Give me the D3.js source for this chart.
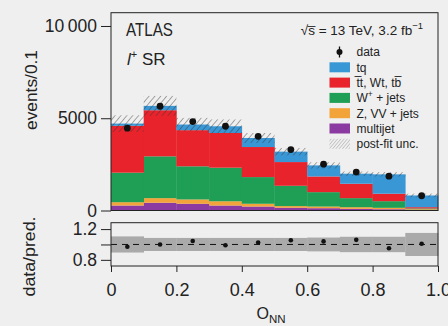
<!DOCTYPE html>
<html><head><meta charset="utf-8">
<script src="https://cdn.jsdelivr.net/npm/d3@7"></script>
<style>
html,body{margin:0;padding:0;background:#efefef;}
svg{display:block;font-family:"Liberation Sans",Arial,sans-serif;}
</style></head><body><svg id="c" width="448" height="326"></svg>
<script>
// ---- data ----
const binLow   = [0.0, 0.1, 0.2, 0.3, 0.4, 0.5, 0.6, 0.7, 0.8, 0.9];
const binWidth = 0.1;
const multijet = [270, 420, 365, 270, 215, 150, 125, 90, 70, 30];
const zvv      = [180, 250, 235, 230, 150, 90, 90, 90, 75, 40];
const wjets    = [1600, 2265, 1795, 1820, 1445, 1100, 780, 490, 360, 40];
const ttbar    = [2540, 2500, 1960, 1880, 1630, 1285, 850, 780, 405, 70];
const tq       = [120, 235, 305, 365, 490, 565, 600, 545, 1050, 635];
const postFitUnc = [450, 540, 360, 370, 270, 200, 170, 120, 120, 100];
const dataVals = [4460, 5650, 4820, 4565, 4020, 3300, 2510, 2080, 1860, 800];
const ratioVals = [0.97, 1.0, 1.045, 0.99, 1.025, 1.055, 1.04, 1.06, 0.95, 1.01];
const ratioUnc  = [0.105, 0.085, 0.085, 0.085, 0.085, 0.085, 0.09, 0.1, 0.1, 0.15];
const yTicks = [0, 5000, 10000];
const yTickLabels = ["0", "5000", "10\u2009000"];
const rTicks = [0.8, 1.0, 1.2];
const rTickLabels = ["0.8", "", "1.2"];
const xTicks = [0, 0.2, 0.4, 0.6, 0.8, 1.0];
const xTickLabels = ["0", "0.2", "0.4", "0.6", "0.8", "1.0"];
const keys = ["multijet", "zvv", "wjets", "ttbar", "tq"];
const colors = {tq:"#3a97d6", ttbar:"#e8232c", wjets:"#1f9e55", zvv:"#f2a33a", multijet:"#8a3aa0"};
const legendItems = [
  {key:"data", label:"data"},
  {key:"tq", label:"tq"},
  {key:"ttbar", label:"t\u0305t, Wt, tb\u0305"},
  {key:"wjets", label:"W", sup:"+", rest:" + jets"},
  {key:"zvv", label:"Z, VV + jets"},
  {key:"multijet", label:"multijet"},
  {key:"unc", label:"post-fit unc."}
];

const table = binLow.map((x, i) => ({x, multijet: multijet[i], zvv: zvv[i], wjets: wjets[i], ttbar: ttbar[i], tq: tq[i]}));
const totals = table.map(d => keys.reduce((s, k) => s + d[k], 0));

const svg = d3.select("#c");
const x = d3.scaleLinear([0, 1], [111, 438]);
const y = d3.scaleLinear([0, 10720], [210.5, 12.7]);
const yr = d3.scaleLinear([0.72, 1.283], [266, 222.7]);
const ink = "#222";

svg.append("rect").attr("width", 448).attr("height", 326).attr("fill", "#efefef");

const defs = svg.append("defs");
const pat = defs.append("pattern").attr("id", "hatch").attr("patternUnits", "userSpaceOnUse")
  .attr("width", 4.5).attr("height", 4.5).attr("patternTransform", "rotate(40)");
pat.append("line").attr("x1", 0).attr("y1", 0).attr("x2", 0).attr("y2", 4.5)
  .attr("stroke", "#333").attr("stroke-width", 1.1).attr("stroke-opacity", 0.75);
const pat2 = defs.append("pattern").attr("id", "hatch2").attr("patternUnits", "userSpaceOnUse")
  .attr("width", 2.5).attr("height", 2.5).attr("patternTransform", "rotate(40)");
pat2.append("line").attr("x1", 0).attr("y1", 0).attr("x2", 0).attr("y2", 2.5)
  .attr("stroke", "#999").attr("stroke-width", 0.9);

// ---- stacked bars ----
const series = d3.stack().keys(keys)(table);
svg.append("g").selectAll("g").data(series).join("g")
  .attr("fill", s => colors[s.key])
  .selectAll("rect").data(s => s).join("rect")
  .attr("x", d => x(d.data.x))
  .attr("width", d => x(d.data.x + binWidth) - x(d.data.x) + 0.3)
  .attr("y", d => y(d[1]))
  .attr("height", d => y(d[0]) - y(d[1]));

// ---- post-fit uncertainty hatch ----
svg.append("g").selectAll("rect").data(binLow).join("rect")
  .attr("x", (d) => x(d))
  .attr("width", d => x(d + binWidth) - x(d))
  .attr("y", (d, i) => y(totals[i] + postFitUnc[i]))
  .attr("height", (d, i) => y(totals[i] - postFitUnc[i]) - y(totals[i] + postFitUnc[i]))
  .attr("fill", "url(#hatch)");

// ---- data points ----
svg.append("g").selectAll("circle").data(binLow).join("circle")
  .attr("cx", d => x(d + binWidth / 2))
  .attr("cy", (d, i) => y(dataVals[i]))
  .attr("r", 3.4).attr("fill", "#111");

// ---- main frame ----
svg.append("rect").attr("x", x(0)).attr("y", y(10720)).attr("width", x(1) - x(0)).attr("height", y(0) - y(10720))
  .attr("fill", "none").attr("stroke", ink).attr("stroke-width", 1);

// main y axis
const yAxis = svg.append("g").attr("transform", `translate(${x(0)},0)`)
  .call(d3.axisLeft(y).tickValues(yTicks).tickSize(10).tickPadding(4)
    .tickFormat((d, i) => yTickLabels[i]));
yAxis.select(".domain").remove();
yAxis.selectAll("line").attr("stroke", ink);
yAxis.selectAll("text").attr("font-size", 17.5).attr("fill", ink).attr("font-family", "Liberation Sans, Arial, sans-serif");

// ---- ratio panel ----
const rg = svg.append("g");
rg.selectAll("rect.band").data(binLow).join("rect").attr("class", "band")
  .attr("x", d => x(d))
  .attr("width", d => x(d + binWidth) - x(d) + 0.3)
  .attr("y", (d, i) => yr(1 + ratioUnc[i]))
  .attr("height", (d, i) => yr(1 - ratioUnc[i]) - yr(1 + ratioUnc[i]))
  .attr("fill", "#aaaaaa");
rg.append("line").attr("x1", x(0)).attr("x2", x(1)).attr("y1", yr(1)).attr("y2", yr(1))
  .attr("stroke", "#111").attr("stroke-width", 1).attr("stroke-dasharray", "6,5");
rg.selectAll("circle").data(binLow).join("circle")
  .attr("cx", d => x(d + binWidth / 2))
  .attr("cy", (d, i) => yr(ratioVals[i]))
  .attr("r", 2.3).attr("fill", "#111");
rg.append("rect").attr("x", x(0)).attr("y", yr(1.283)).attr("width", x(1) - x(0)).attr("height", yr(0.72) - yr(1.283))
  .attr("fill", "none").attr("stroke", ink).attr("stroke-width", 1);

const rAxis = svg.append("g").attr("transform", `translate(${x(0)},0)`)
  .call(d3.axisLeft(yr).tickValues(rTicks).tickSize(10).tickPadding(4)
    .tickFormat((d, i) => rTickLabels[i]));
rAxis.select(".domain").remove();
rAxis.selectAll("line").attr("stroke", ink);
rAxis.selectAll("text").attr("font-size", 17.5).attr("fill", ink).attr("font-family", "Liberation Sans, Arial, sans-serif");

const xAxis = svg.append("g").attr("transform", `translate(0,${yr(0.72)})`)
  .call(d3.axisBottom(x).tickValues(xTicks).tickSize(6).tickPadding(11)
    .tickFormat((d, i) => xTickLabels[i]));
xAxis.select(".domain").remove();
xAxis.selectAll("line").attr("stroke", ink);
xAxis.selectAll("text").attr("font-size", 18).attr("fill", ink).attr("font-family", "Liberation Sans, Arial, sans-serif");

// ---- axis titles ----
svg.append("text").attr("transform", "translate(37,90) rotate(-90)")
  .attr("text-anchor", "middle").attr("font-size", 16).attr("fill", ink)
  .attr("textLength", 80).attr("lengthAdjust", "spacingAndGlyphs").text("events/0.1");
svg.append("text").attr("transform", "translate(35,256.5) rotate(-90)")
  .attr("text-anchor", "middle").attr("font-size", 16).attr("fill", ink)
  .attr("textLength", 80).attr("lengthAdjust", "spacingAndGlyphs").text("data/pred.");
const xl = svg.append("text").attr("x", 256.5).attr("y", 319).attr("font-size", 16).attr("fill", ink);
xl.append("tspan").text("O");
xl.append("tspan").attr("font-size", 11.5).attr("dy", 4).text("NN");

// ---- labels ----
svg.append("text").attr("x", 126).attr("y", 36).attr("font-size", 17.5).attr("fill", ink)
  .attr("textLength", 47).attr("lengthAdjust", "spacingAndGlyphs").text("ATLAS");
const sr = svg.append("text").attr("x", 127).attr("y", 65).attr("font-size", 17).attr("fill", ink);
sr.append("tspan").attr("font-style", "italic").text("l");
sr.append("tspan").attr("font-size", 11).attr("dy", -7).text("+");
sr.append("tspan").attr("dy", 7).text(" SR");

const en = svg.append("text").attr("x", 423).attr("y", 35).attr("text-anchor", "end").attr("font-size", 13.5).attr("fill", ink);
en.append("tspan").text("\u221As\u0305 = 13 TeV, 3.2 fb");
en.append("tspan").attr("font-size", 9.5).attr("dy", -6).text("\u22121");

// ---- legend ----
const lg = svg.append("g");
legendItems.forEach((it, i) => {
  const cy = 52 + i * 15.3;
  if (it.key === "data") {
    lg.append("line").attr("x1", 339.5).attr("x2", 339.5).attr("y1", cy - 5.5).attr("y2", cy + 5.5)
      .attr("stroke", "#111").attr("stroke-width", 1.3);
    lg.append("circle").attr("cx", 339.5).attr("cy", cy).attr("r", 3).attr("fill", "#111");
  } else if (it.key === "unc") {
    lg.append("rect").attr("x", 329.5).attr("y", cy - 5).attr("width", 20.5).attr("height", 10)
      .attr("fill", "url(#hatch2)");
  } else {
    lg.append("rect").attr("x", 329.5).attr("y", cy - 5).attr("width", 20.5).attr("height", 10)
      .attr("fill", colors[it.key]);
  }
  const t = lg.append("text").attr("x", 356.5).attr("y", cy).attr("dy", "0.36em")
    .attr("font-size", 12).attr("fill", ink);
  t.append("tspan").text(it.label);
  if (it.sup) {
    t.append("tspan").attr("font-size", 8.5).attr("dy", -5).text(it.sup);
    t.append("tspan").attr("dy", 5).text(it.rest);
  }
});
</script></body></html>
